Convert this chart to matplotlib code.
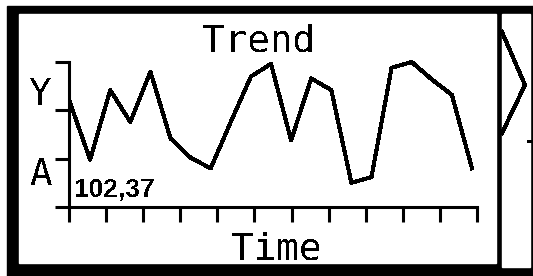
import numpy as np
import matplotlib
matplotlib.use("Agg")
import matplotlib.pyplot as plt
from matplotlib.patches import Rectangle

plt.rcParams['text.antialiased'] = False

# trend samples, one per time step
time = list(range(21))
value = [108, 49, 121, 88, 140, 71, 51, 40, 88, 135, 148,
         69, 133, 121, 25, 31, 144, 150, 132, 116, 40]
y_ticks = [0, 50, 100, 150]
n_xticks = 12
title = "Trend"
x_label = "Time"
y_label = "Y"
unit_label = "A"
readout = "102,37"

W, H = 533, 276
fig = plt.figure(figsize=(W / 100, H / 100), dpi=100)
fig.patch.set_facecolor("white")

# screen frame, drawn in pixel units
bg = fig.add_axes([0, 0, 1, 1])
bg.set_xlim(0, W)
bg.set_ylim(H, 0)
bg.axis("off")
bg.add_patch(Rectangle((7, 6), 526, 270, color="black"))
bg.add_patch(Rectangle((19, 14), 477, 249, color="white"))
bg.add_patch(Rectangle((502, 14), 28, 253, color="white"))
bg.plot([502, 525, 502], [32, 85, 133], color="black", lw=2.2,
        antialiased=False, solid_joinstyle="miter")
bg.plot([528, 530], [141, 141], color="black", lw=1, antialiased=False)

mono = "DejaVu Sans Mono"
bg.text(259, 52, title, ha="center", va="baseline", family=mono, fontsize=27)
bg.text(276, 260, x_label, ha="center", va="baseline", family=mono, fontsize=27)
bg.text(41, 105, y_label, ha="center", va="baseline", family=mono, fontsize=27)
bg.text(42, 185, unit_label, ha="center", va="baseline", family=mono, fontsize=27)
bg.text(74, 197, readout, ha="left", va="baseline",
        family="Liberation Sans", fontsize=19, fontweight="bold")

# the chart itself
ax = fig.add_axes([69 / W, (H - 207) / H, 408 / W, 145 / H])
ax.patch.set_alpha(0)
ax.plot(time, value, color="black", lw=2.2, antialiased=False, clip_on=False)
x0, x1 = -0.05, 20.25
ax.set_xlim(x0, x1)
ax.set_ylim(0, 150)
ax.set_xticks(np.linspace(x0, x1, n_xticks))
ax.set_yticks(y_ticks)
ax.set_xticklabels([])
ax.set_yticklabels([])
for s in ["top", "right"]:
    ax.spines[s].set_visible(False)
for s in ["left", "bottom"]:
    ax.spines[s].set_linewidth(2.2)
    ax.spines[s].set_color("black")
ax.tick_params(axis="x", direction="out", length=10.8, width=2.2, color="black")
ax.tick_params(axis="y", direction="out", length=10, width=2.2, color="black")

fig.savefig("out.png", dpi=100)
